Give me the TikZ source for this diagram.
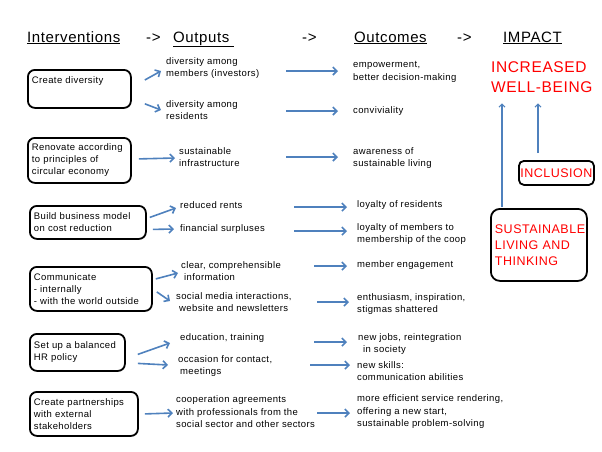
\documentclass[tikz,border=0pt]{standalone}
\usepackage{fontspec}
\setmainfont{Liberation Sans}[LetterSpace=4]
\usetikzlibrary{arrows.meta,calc,positioning}
\definecolor{linkblue}{HTML}{4F81BD}
\tikzset{txt/.style={anchor=west,inner sep=0pt,align=left,font=\fontsize{9.5}{12.5}\selectfont},
         ibox/.style={draw,rounded corners=7pt,line width=1.8pt,anchor=north west,align=left,inner xsep=4pt,inner ysep=2pt,font=\fontsize{9.5}{12}\selectfont},
         head/.style={anchor=base west,inner sep=0pt,font=\fontsize{15}{18}\selectfont},
         imp/.style={anchor=north west,inner sep=0pt,align=left,text=red,font=\fontsize{15.5}{20}\selectfont},
         rbox/.style={draw,rounded corners=9pt,line width=1.8pt,anchor=north west,align=left,text=red},
         blue arrow/.style={linkblue,line width=1.6pt,-{Straight Barb[length=4pt,width=8pt]}},
         thin arrow/.style={linkblue,line width=1.1pt,-{Straight Barb[length=3pt,width=6pt]}},
}
\begin{document}
\begin{tikzpicture}[x=1pt,y=-1pt]
\useasboundingbox (0,0) rectangle (602,451);
% column heads
\node[head] (hint) at (27,42) {\underline{Interventions}};
\node[head] (harr1) at (146,42) {->};
\node[head] (hout) at (173,42) {\underline{Outputs\ }};
\node[head] (harr2) at (302,42) {->};
\node[head] (hoc) at (354,42) {\underline{Outcomes}};
\node[head] (harr3) at (457,42) {->};
\node[head] (himp) at (503,42) {\underline{IMPACT}};
% interventions
\node[ibox,text width=95pt,minimum height=38pt] (div) at (27,69) {Create diversity\\[1ex]\mbox{}};
\node[ibox,text width=95pt,minimum height=45pt] (ren) at (27,137) {Renovate according\\to principles of\\circular economy};
\node[ibox,text width=108pt,minimum height=33pt] (bus) at (29,205) {Build business model\\on cost reduction};
\node[ibox,text width=114pt,minimum height=44pt] (com) at (29,266) {Communicate\\- internally\\- with the world outside};
\node[ibox,text width=87pt,minimum height=37pt] (hr) at (29,333) {Set up a balanced\\HR policy};
\node[ibox,text width=100pt,minimum height=44pt] (part) at (29,391) {Create partnerships\\with external\\stakeholders};
% outputs
\node[txt] (o1) at (166,68) {diversity among\\members (investors)};
\node[txt] (o2) at (166,110) {diversity among\\residents};
\node[txt] (o3) at (179,157) {sustainable\\infrastructure};
\node[txt] (o4) at (180,205) {reduced rents};
\node[txt] (o5) at (180,229) {financial surpluses};
\node[txt] (o6) at (181,271) {clear, comprehensible\\\hspace{3pt}information};
\node[txt] (o7) at (176,302) {social media interactions,\\\hspace{3pt}website and newsletters};
\node[txt] (o8) at (180,338) {education, training};
\node[txt] (o9) at (178,366) {occasion for contact,\\\hspace{2pt}meetings};
\node[txt] (o10) at (176,412) {cooperation agreements\\with professionals from the\\social sector and other sectors};
% outcomes
\node[txt] (c1) at (353,72) {empowerment,\\better decision-making};
\node[txt] (c2) at (353,111) {conviviality};
\node[txt] (c3) at (353,158) {awareness of\\sustainable living};
\node[txt] (c4) at (357,205) {loyalty of residents};
\node[txt] (c5) at (357,234) {loyalty of members to\\membership of the coop};
\node[txt] (c6) at (357,265) {member engagement};
\node[txt] (c7) at (357,304) {enthusiasm, inspiration,\\stigmas shattered};
\node[txt] (c8) at (358,344) {new jobs, reintegration\\\hspace{5pt}in society};
\node[txt] (c9) at (357,371) {new skills:\\communication abilities};
\node[txt] (c10) at (357,412) {more efficient service rendering,\\offering a new start,\\sustainable problem-solving};
% impact
\node[imp] (well) at (491,61) {INCREASED\\WELL-BEING};
\node[rbox,rounded corners=5pt,inner sep=1.5pt,minimum height=24pt,font=\fontsize{12.5}{15}\selectfont] (incl) at (518,160) {INCLUSION};
\node[rbox,text width=88pt,minimum height=72pt,inner xsep=4pt,font=\fontsize{12.5}{16}\selectfont] (sust) at (490,208) {SUSTAINABLE\\LIVING AND\\THINKING};
% interventions -> outputs
\draw[blue arrow] ($(div.north east)+(13,11)$) -- ($(o1.west)+(-5,3)$);
\draw[blue arrow] ($(div.south east)+(13,-5)$) -- ($(o2.west)+(-5,0)$);
\draw[blue arrow] ($(ren.east)+(7,-1.5)$) -- ($(o3.west)+(-4,1)$);
\draw[blue arrow] ($(bus.east)+(3,-5)$) -- ($(o4.west)+(-4,3)$);
\draw[blue arrow] ($(bus.east)+(6,7)$) -- ($(o5.west)+(-6,0)$);
\draw[blue arrow] ($(com.east)+(3,-10)$) -- ($(o6.west)+(-3,2)$);
\draw[blue arrow] ($(com.east)+(4,3)$) -- ($(o7.west)+(-6,-1)$);
\draw[blue arrow] ($(hr.east)+(12,2)$) -- ($(o8.west)+(-10,5)$);
\draw[blue arrow] ($(hr.east)+(12,11)$) -- ($(o9.west)+(-10,-1)$);
\draw[blue arrow] ($(part.east)+(6,0)$) -- ($(o10.west)+(-3,1)$);
% outputs -> outcomes
\draw[blue arrow] ($(c1.west)+(-67,-1)$) -- ($(c1.west)+(-15,-1)$);
\draw[blue arrow] ($(c2.west)+(-67,0)$) -- ($(c2.west)+(-15,0)$);
\draw[blue arrow] ($(c3.west)+(-67,-1)$) -- ($(c3.west)+(-15,-1)$);
\draw[blue arrow] ($(c4.west)+(-63,2)$) -- ($(c4.west)+(-10,2)$);
\draw[blue arrow] ($(c5.west)+(-63,-3)$) -- ($(c5.west)+(-10,-3)$);
\draw[blue arrow] ($(c6.west)+(-43,1)$) -- ($(c6.west)+(-10,1)$);
\draw[blue arrow] ($(c7.west)+(-40,-2)$) -- ($(c7.west)+(-8,-2)$);
\draw[blue arrow] ($(c8.west)+(-44,-2)$) -- ($(c8.west)+(-11,-2)$);
\draw[blue arrow] ($(c9.west)+(-47,-6)$) -- ($(c9.west)+(-7,-6)$);
\draw[blue arrow] ($(c10.west)+(-40,1)$) -- ($(c10.west)+(-7,1)$);
% towards impact
\draw[thin arrow] ($(sust.north west)+(12,-1)$) -- ($(well.south west)+(11,11)$);
\draw[thin arrow] ($(incl.north west)+(20,-7)$) -- ($(well.south west)+(47,11)$);
\end{tikzpicture}
\end{document}
